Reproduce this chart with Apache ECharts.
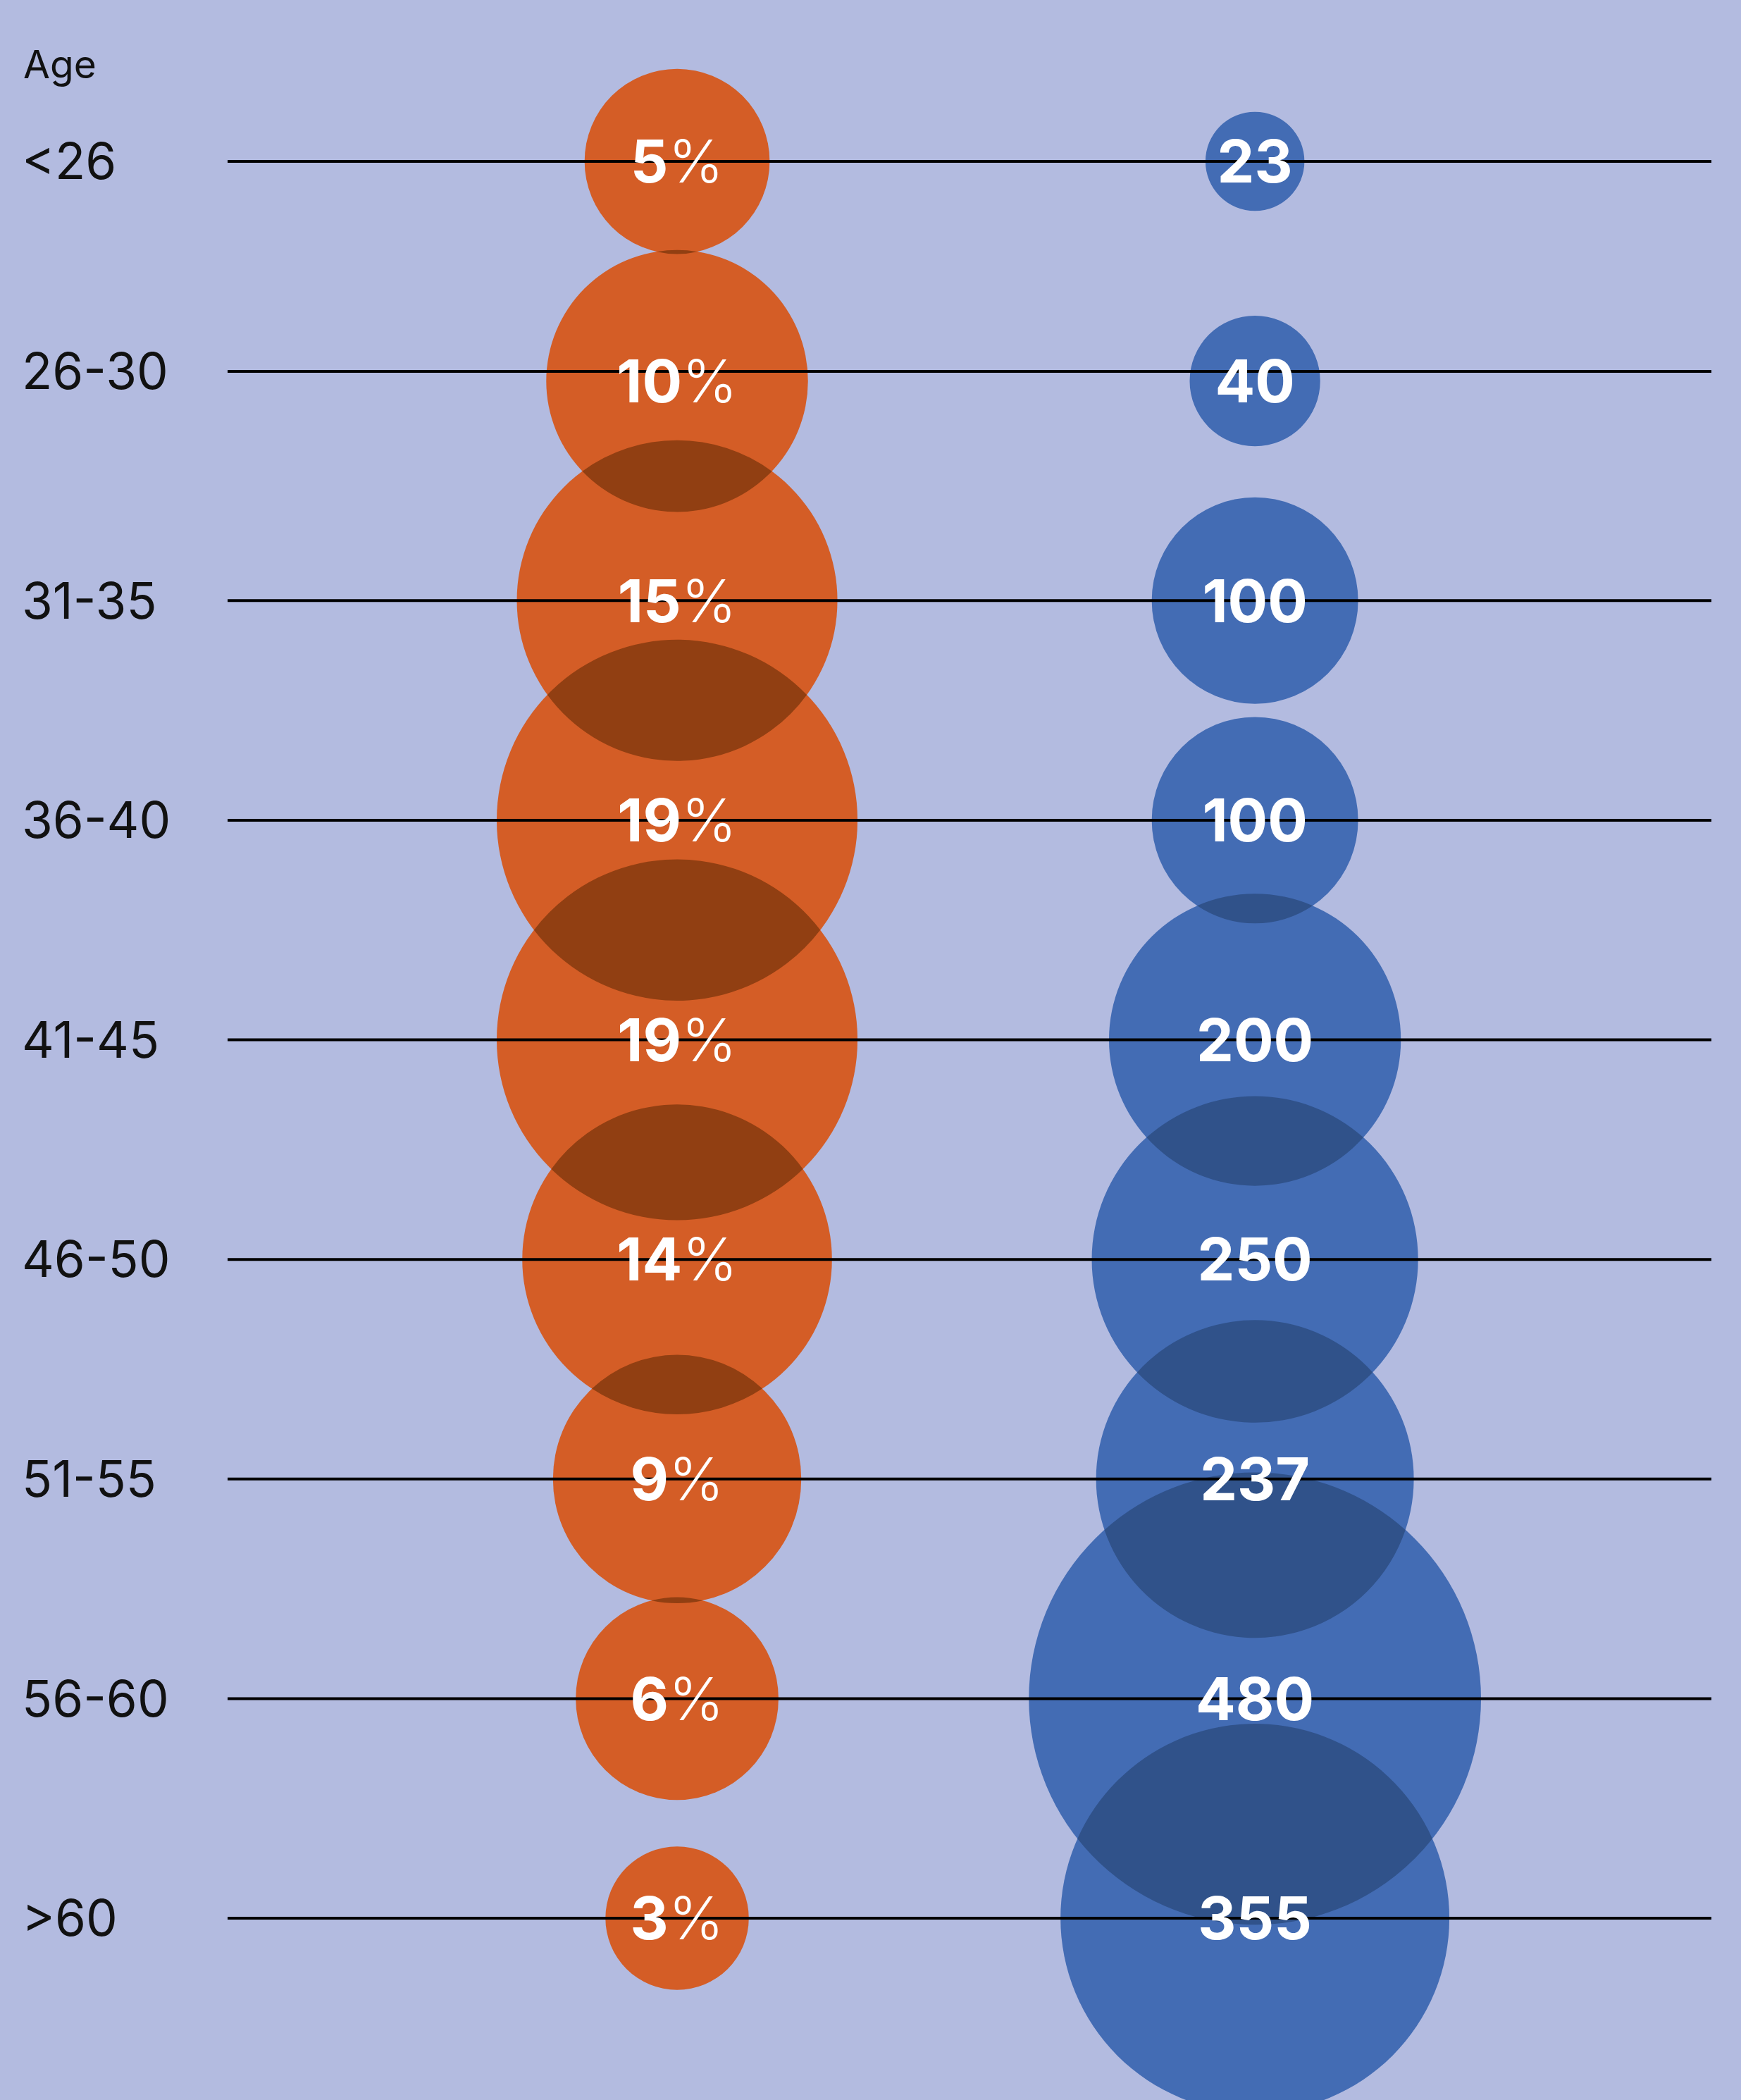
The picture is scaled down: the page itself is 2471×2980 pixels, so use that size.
<!DOCTYPE html>
<html>
<head>
<meta charset="utf-8">
<script src="https://cdn.jsdelivr.net/npm/echarts@6/dist/echarts.min.js"></script>
<style>
  html, body { margin: 0; padding: 0; background: #B3BBE0; }
  #chart { width: 2471px; height: 2980px; }
</style>
</head>
<body>
<div id="chart"></div>
<script>
// Age bands (top to bottom)
const ageGroups = ['<26', '26-30', '31-35', '36-40', '41-45', '46-50', '51-55', '56-60', '>60'];
// Share of respondents per band, in percent (left column)
const sharePct = [5, 10, 15, 19, 19, 14, 9, 6, 3];
// Head count per band (right column)
const headcount = [23, 40, 100, 100, 200, 250, 237, 480, 355];
// Rows (y axis units) where the guide rules and their age labels sit
const ruleRows = [0, 0.956, 2, 3, 4, 5, 6, 7, 8];

// Bubble radius per square root of value, in y-axis units, one per column
const radiusPerRoot = [0.1885, 0.0470];
const fills = ['#D45D26', '#436CB4'];
const overlapFills = ['#913F12', '#30528A'];
const FONT = 'Inter, "Noto Sans", sans-serif';

const bubbleData = []
  .concat(sharePct.map((v, i) => [0, i, v]))
  .concat(headcount.map((v, i) => [1, i, v]));

// Pairs of neighbouring bubbles in the same column: [col, row, value, valueAbove]
const overlapData = []
  .concat(sharePct.slice(1).map((v, i) => [0, i + 1, v, sharePct[i]]))
  .concat(headcount.slice(1).map((v, i) => [1, i + 1, v, headcount[i]]));

function radiusPx(api, col, v) {
  return api.size([0, radiusPerRoot[col] * Math.sqrt(v)])[1];
}

const chart = echarts.init(document.getElementById('chart'), null, { renderer: 'canvas' });

chart.setOption({
  backgroundColor: '#B3BBE0',
  animation: false,
  title: {
    text: 'Age',
    left: 28,
    top: 62,
    textStyle: { fontFamily: FONT, fontSize: 55, fontWeight: 'normal', color: '#111111' }
  },
  grid: { left: 323, right: 42, top: 229, bottom: 258, containLabel: false },
  xAxis: {
    type: 'value', min: -0.778, max: 1.79, show: false
  },
  yAxis: {
    type: 'value', inverse: true, min: 0, max: 8,
    axisLine: { show: false }, axisTick: { show: false }, splitLine: { show: false },
    axisLabel: {
      customValues: ruleRows,
      formatter: function (v) {
        const idx = ruleRows.findIndex(r => Math.abs(r - v) < 0.001);
        return idx >= 0 ? ageGroups[idx] : '';
      },
      align: 'left', verticalAlign: 'top', lineHeight: 8, margin: 292,
      fontFamily: FONT, fontSize: 71, color: '#111111'
    }
  },
  series: [
    {
      // bubbles
      type: 'custom', z: 2, clip: false,
      encode: { x: 0, y: 1 },
      data: bubbleData,
      renderItem: function (params, api) {
        const col = api.value(0), row = api.value(1), v = api.value(2);
        const c = api.coord([col, row]);
        return {
          type: 'circle',
          shape: { cx: c[0], cy: c[1], r: radiusPx(api, col, v) },
          style: { fill: fills[col] }
        };
      }
    },
    {
      // darker lens where a bubble overlaps the one above it
      type: 'custom', z: 3, clip: false,
      encode: { x: 0, y: 1 },
      data: overlapData,
      renderItem: function (params, api) {
        const col = api.value(0), row = api.value(1);
        const r2 = radiusPx(api, col, api.value(2));
        const r1 = radiusPx(api, col, api.value(3));
        const p1 = api.coord([col, row - 1]);
        const p2 = api.coord([col, row]);
        const d = p2[1] - p1[1];
        if (d >= r1 + r2) return null;
        const a = (d * d + r1 * r1 - r2 * r2) / (2 * d);
        const h = Math.sqrt(Math.max(r1 * r1 - a * a, 0));
        const x = p1[0], ya = p1[1] + a;
        const large1 = a < 0 ? 1 : 0;
        const large2 = (d - a) < 0 ? 1 : 0;
        const path = 'M' + (x - h) + ',' + ya +
          ' A' + r1 + ',' + r1 + ' 0 ' + large1 + ' 0 ' + (x + h) + ',' + ya +
          ' A' + r2 + ',' + r2 + ' 0 ' + large2 + ' 0 ' + (x - h) + ',' + ya + ' Z';
        return {
          type: 'path',
          shape: { pathData: path },
          style: { fill: overlapFills[col] }
        };
      }
    },
    {
      // horizontal guide rules
      type: 'custom', z: 4, clip: false,
      encode: { x: 0, y: 1 },
      data: ruleRows.map(r => [0, r]),
      renderItem: function (params, api) {
        const y = api.coord([0, api.value(1)])[1];
        const cs = params.coordSys;
        return {
          type: 'line',
          shape: { x1: cs.x, y1: y, x2: cs.x + cs.width, y2: y },
          style: { stroke: '#000000', lineWidth: 4 }
        };
      }
    },
    {
      // value labels inside the bubbles
      type: 'custom', z: 5, clip: false,
      encode: { x: 0, y: 1 },
      data: bubbleData,
      renderItem: function (params, api) {
        const col = api.value(0), row = api.value(1), v = api.value(2);
        const c = api.coord([col, row]);
        const text = col === 0 ? '{n|' + v + '}{p|%}' : '{n|' + v + '}';
        return {
          type: 'text',
          x: c[0], y: c[1] + 5,
          style: {
            text: text,
            align: 'center', verticalAlign: 'middle',
            fill: '#FFFFFF',
            rich: {
              n: { fontFamily: FONT, fontSize: 84, fontWeight: 'bold', fill: '#FFFFFF', color: '#FFFFFF' },
              p: { fontFamily: FONT, fontSize: 84, fontWeight: 300, fill: '#FFFFFF', color: '#FFFFFF' }
            }
          }
        };
      }
    }
  ]
});
</script>
</body>
</html>
